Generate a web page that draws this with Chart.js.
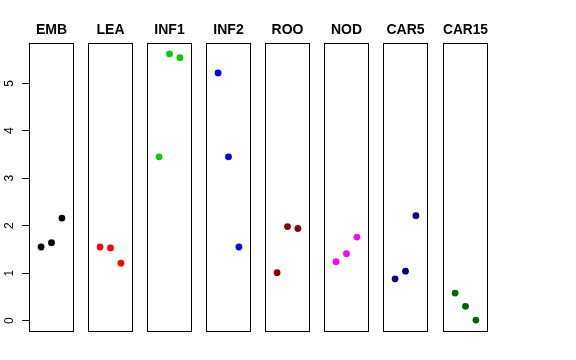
<!DOCTYPE html>
<html>
<head>
<meta charset="utf-8">
<script src="https://cdn.jsdelivr.net/npm/chart.js@4/dist/chart.umd.min.js"></script>
<style>
body { margin: 0; background: #fff; }
#wrap { position: relative; width: 576px; height: 360px; overflow: hidden; }
#wrap canvas { position: absolute; top: 0; }
</style>
</head>
<body>
<div id="wrap"></div>
<script>
// data
const groups = ['EMB', 'LEA', 'INF1', 'INF2', 'ROO', 'NOD', 'CAR5', 'CAR15'];
const xPos = [1, 2, 3];
const embVals = [1.55, 1.64, 2.16];
const leaVals = [1.55, 1.53, 1.21];
const inf1Vals = [3.45, 5.62, 5.54];
const inf2Vals = [5.22, 3.45, 1.55];
const rooVals = [1.01, 1.98, 1.94];
const nodVals = [1.24, 1.41, 1.76];
const car5Vals = [0.88, 1.04, 2.21];
const car15Vals = [0.58, 0.30, 0.01];
const yTicks = [0, 1, 2, 3, 4, 5];

const seriesVals = [embVals, leaVals, inf1Vals, inf2Vals, rooVals, nodVals, car5Vals, car15Vals];
const colors = ['#000000', '#FF0000', '#00CD00', '#0000FF', '#8B0000', '#FF00FF', '#000080', '#006400'];

// panel layout (px)
const panelLeft = [29, 88, 147, 206, 265, 324, 383, 443];
const panelW = 45;
const axisW = 29;
const sidePad = 7;

const boxPlugin = {
    id: 'box',
    afterDraw(chart) {
        const a = chart.chartArea;
        const ctx = chart.ctx;
        ctx.save();
        ctx.strokeStyle = '#000';
        ctx.lineWidth = 1;
        ctx.strokeRect(Math.round(a.left) + 0.5, Math.round(a.top) + 0.5,
            Math.round(a.right - a.left) - 1, Math.round(a.bottom - a.top));
        ctx.restore();
    }
};

const wrap = document.getElementById('wrap');

groups.forEach((name, i) => {
    const first = i === 0;
    const canvas = document.createElement('canvas');
    const w = first ? axisW + panelW + axisW : panelW + 2 * sidePad;
    const left = first ? 0 : panelLeft[i] - sidePad;
    canvas.width = w;
    canvas.height = 360;
    canvas.style.left = left + 'px';
    canvas.style.width = w + 'px';
    canvas.style.height = '360px';
    wrap.appendChild(canvas);

    const scales = {
        x: { type: 'linear', min: -0.16, max: 4.16, display: false },
        y: {
            type: 'linear',
            min: -0.22,
            max: 5.85,
            display: first,
            afterBuildTicks(scale) { scale.ticks = yTicks.map(v => ({ value: v })); },
            border: { display: false },
            grid: { drawOnChartArea: false, drawTicks: true, tickLength: 7, color: '#000' },
            ticks: {
                color: '#000',
                font: { family: 'Liberation Sans', size: 12 },
                minRotation: 90,
                maxRotation: 90,
                crossAlign: 'center',
                padding: 9
            }
        }
    };
    if (first) {
        scales.y.afterFit = scale => { scale.width = axisW; };
        // empty right axis so the title centres over the panel
        scales.yRight = {
            type: 'linear', position: 'right', min: -0.22, max: 5.85,
            grid: { display: false }, border: { display: false }, ticks: { display: false },
            afterFit(scale) { scale.width = axisW; }
        };
    }

    new Chart(canvas.getContext('2d'), {
        type: 'scatter',
        data: {
            datasets: [{
                data: xPos.map((x, k) => ({ x: x, y: seriesVals[i][k] })),
                backgroundColor: colors[i],
                borderWidth: 0,
                pointRadius: 3.4,
                pointHoverRadius: 3.4
            }]
        },
        options: {
            responsive: false,
            animation: false,
            devicePixelRatio: 1,
            layout: {
                padding: { left: first ? 0 : sidePad, right: first ? 0 : sidePad, top: 0, bottom: 29 }
            },
            scales: scales,
            plugins: {
                legend: { display: false },
                tooltip: { enabled: false },
                title: {
                    display: true,
                    text: name,
                    color: '#000',
                    font: { family: 'Liberation Sans', size: 14, weight: 'bold', lineHeight: 1.2 },
                    padding: { top: 21.5, bottom: 4.7 }
                }
            }
        },
        plugins: [boxPlugin]
    });
});
</script>
</body>
</html>
